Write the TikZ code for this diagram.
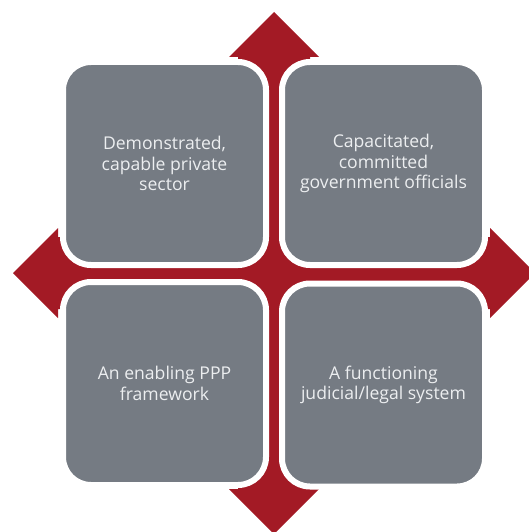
\documentclass[tikz,border=0pt]{standalone}
\usepackage{fontspec}
\setmainfont{Open Sans}
\usepackage{tikz}
\definecolor{crim}{HTML}{A31A25}
\definecolor{slate}{HTML}{757B83}
\definecolor{chalk}{HTML}{ECEEF0}
\tikzset{
  quad/.style={draw=white,line width=6pt,rounded corners=28pt,fill=slate,minimum width=203pt,minimum height=203pt,inner sep=0pt,align=center,text=chalk,font=\fontsize{17.6}{20.5}\selectfont}
}
\begin{document}
\begin{tikzpicture}[x=1pt,y=-1pt]
\useasboundingbox (0,0) rectangle (529,532);
\coordinate (ctr) at (274,273);
% four arms of the red cross
\foreach \a in {0,90,180,270}
  \fill[crim,shift={(ctr)},rotate=\a] (-36,0) -- (-36,-216) -- (-45,-216) -- (0,-261) -- (45,-216) -- (36,-216) -- (36,0) -- cycle;
\node[quad] (tl) at (164.5,163.5) {Demonstrated,\\capable private\\sector};
\node[quad] (tr) at (383.5,163.5) {Capacitated,\\committed\\government officials};
\node[quad] (bl) at (164.5,383.5) {An enabling PPP\\framework};
\node[quad] (br) at (383.5,385) {A functioning\\judicial/legal system};
\end{tikzpicture}
\end{document}
